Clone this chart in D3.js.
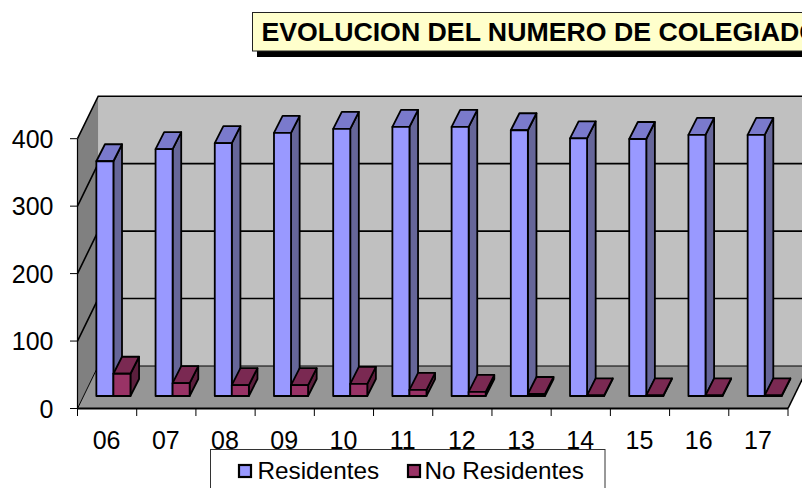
<!DOCTYPE html>
<html><head><meta charset="utf-8">
<script src="https://cdn.jsdelivr.net/npm/d3@7/dist/d3.min.js"></script>
<style>html,body{margin:0;padding:0;background:#fff;overflow:hidden}svg{display:block}text{font-family:"Liberation Sans",Arial,sans-serif;fill:#000}</style>
</head><body><svg id="c" width="802" height="488"></svg>
<script>
const categories=["06","07","08","09","10","11","12","13","14","15","16","17"];
const residentes=[348,366,375,390,396,399,399,394,382,381,387,387];
const noResidentes=[33,19,16,16,18,9,6,3,1,1,1,1];
const yTicks=[0,100,200,300,400];
const seriesNames=["Residentes","No Residentes"];
const titleText="EVOLUCION DEL NUMERO DE COLEGIADO";
const fills=[{f:"#9999FF",t:"#7A7ACC",s:"#666699"},{f:"#993366",t:"#7A2952",s:"#5C1F3D"}];
const svg=d3.select("#c");
const x=d3.scaleBand().domain(categories).range([77.5,788]).paddingInner(0).paddingOuter(0);
const y=d3.scaleLinear().domain([0,400]).range([408.5,138.7]);
const D={x:20.7,y:-42.5};      // wall depth
const B={x:6.3,y:-12.5};       // bar front plane offset
const d={x:8.6,y:-17};         // bar depth
const poly=p=>p.map(a=>a.join(",")).join(" ");
const X0=x.range()[0],X1=x.range()[1],Y0=y(0),Yt=y(400);
// title
svg.append("rect").attr("x",257).attr("y",18).attr("width",560).attr("height",39).attr("fill","#000");
svg.append("rect").attr("x",252.5).attr("y",12.5).attr("width",560).attr("height",38.5).attr("fill","#FFFFCC").attr("stroke","#222").attr("stroke-width",1);
svg.append("text").attr("x",261.5).attr("y",41).attr("font-size",26.7).attr("font-weight","bold").text(titleText);
// walls
const g=svg.append("g");
g.append("polygon").attr("points",poly([[X0+D.x,Yt+D.y],[X1+D.x+10,Yt+D.y],[X1+D.x+10,Y0+D.y],[X0+D.x,Y0+D.y]])).attr("fill","#C0C0C0");
g.append("polygon").attr("points",poly([[X0,Yt],[X0+D.x,Yt+D.y],[X0+D.x,Y0+D.y],[X0,Y0]])).attr("fill","#808080");
g.append("polygon").attr("points",poly([[X0,Y0],[X1,Y0],[X1+D.x,Y0+D.y],[X0+D.x,Y0+D.y]])).attr("fill","#969696");
// gridlines
yTicks.forEach(v=>{
  const yy=y(v);
  g.append("polyline").attr("points",poly([[X0,yy],[X0+D.x,yy+D.y],[X1+D.x+10,yy+D.y]])).attr("fill","none").attr("stroke","#000").attr("stroke-width",v==0?1:1.6);
});
g.append("line").attr("x1",X1).attr("y1",Y0).attr("x2",X1+D.x).attr("y2",Y0+D.y).attr("stroke","#000").attr("stroke-width",1.6);
// axes
g.append("line").attr("x1",X0).attr("x2",X0).attr("y1",Yt).attr("y2",Y0).attr("stroke","#000").attr("stroke-width",1.2);
g.append("line").attr("x1",X0).attr("x2",X1).attr("y1",Y0).attr("y2",Y0).attr("stroke","#000").attr("stroke-width",2);
yTicks.forEach(v=>{
  g.append("line").attr("x1",70).attr("x2",X0).attr("y1",y(v)).attr("y2",y(v)).attr("stroke","#000").attr("stroke-width",1);
  g.append("text").attr("x",53.5).attr("y",y(v)+9).attr("text-anchor","end").attr("font-size",25).text(v);
});
categories.concat(["_"]).forEach((c,i)=>{
  const tx=X0+i*x.bandwidth();
  g.append("line").attr("x1",tx).attr("x2",tx).attr("y1",Y0).attr("y2",Y0+7.5).attr("stroke","#000").attr("stroke-width",1);
});
categories.forEach(c=>{
  g.append("text").attr("x",x(c)+x.bandwidth()/2-0.5).attr("y",449).attr("text-anchor","middle").attr("font-size",25).text(c);
});
// bars
const barW=17.05;
const offset=(x.bandwidth()-2*barW)/2+B.x;
function bar(c,v,k){
  const st=fills[k];
  const x0=x(c)+offset+k*barW, x1=x0+barW;
  const yb=Y0+B.y, yt=yb-(y(0)-y(v));
  const p=svg.append("g").attr("stroke","#000").attr("stroke-width",1.8).attr("stroke-linejoin","round");
  p.append("polygon").attr("points",poly([[x1,yb],[x1+d.x,yb+d.y],[x1+d.x,yt+d.y],[x1,yt]])).attr("fill",st.s);
  p.append("polygon").attr("points",poly([[x0,yt],[x1,yt],[x1+d.x,yt+d.y],[x0+d.x,yt+d.y]])).attr("fill",st.t);
  p.append("rect").attr("x",x0).attr("y",yt).attr("width",barW).attr("height",yb-yt).attr("fill",st.f);
}
categories.forEach((c,i)=>{bar(c,residentes[i],0);bar(c,noResidentes[i],1);});
// legend
const L=svg.append("g");
L.append("rect").attr("x",210.5).attr("y",449.5).attr("width",394.5).attr("height",60).attr("fill","#fff").attr("stroke","#333").attr("stroke-width",1);
[[239,258],[408,425]].forEach((p,i)=>{
  L.append("rect").attr("x",p[0]).attr("y",465).attr("width",12).attr("height",12).attr("fill",fills[i].f).attr("stroke","#000").attr("stroke-width",2.2);
  L.append("text").attr("x",p[1]-0.5).attr("y",479).attr("font-size",24.3).text(seriesNames[i]);
});
</script></body></html>
